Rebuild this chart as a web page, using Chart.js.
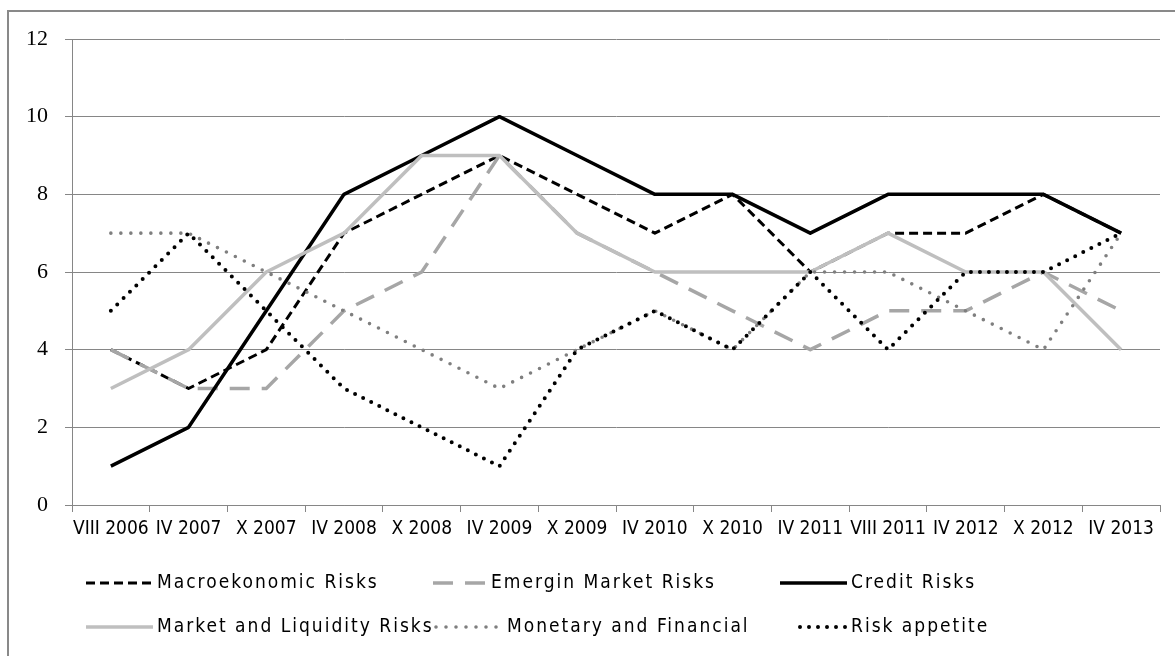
<!DOCTYPE html>
<html lang="en">
<head>
<meta charset="UTF-8">
<title>Risks 2006-2013</title>
<style>
  body { margin: 0; background: #fff; overflow: hidden; }
  #frame { position: absolute; left: 7px; top: 10px; width: 1200px; height: 700px; border: 2px solid #898989; }
  #wrap { position: absolute; left: 0; top: 0; width: 1175px; height: 656px; }
</style>
</head>
<body>
<div id="frame"></div>
<div id="wrap"><canvas id="riskChart" width="1175" height="656"></canvas></div>

<script src="https://cdn.jsdelivr.net/npm/chart.js"></script>
<script>
// categories (x axis)
const periods = ['VIII 2006', 'IV 2007', 'X 2007', 'IV 2008', 'X 2008', 'IV 2009', 'X 2009',
                 'IV 2010', 'X 2010', 'IV 2011', 'VIII 2011', 'IV 2012', 'X 2012', 'IV 2013'];

// series values
const macroRisks     = [4, 3, 4, 7, 8, 9, 8, 7, 8, 6, 7, 7, 8, 7];
const emerginRisks   = [4, 3, 3, 5, 6, 9, 7, 6, 5, 4, 5, 5, 6, 5];
const creditRisks    = [1, 2, 5, 8, 9, 10, 9, 8, 8, 7, 8, 8, 8, 7];
const liquidityRisks = [3, 4, 6, 7, 9, 9, 7, 6, 6, 6, 7, 6, 6, 4];
const monetaryRisks  = [7, 7, 6, 5, 4, 3, 4, 5, 4, 6, 6, 5, 4, 7];
const riskAppetite   = [5, 7, 5, 3, 2, 1, 4, 5, 4, 6, 4, 6, 6, 7];

// y axis ticks
const yTicks = [0, 2, 4, 6, 8, 10, 12];

const axisGray = '#868686';

// legend entries: line start, text start, row y
const legendSpots = [
    [86, 157, 583], [433, 491, 583], [780, 851, 583],
    [86, 157, 627], [436, 507, 627], [800, 851, 627]
];

const bottomLegend = {
    id: 'bottomLegend',
    afterDraw(chart) {
        const ctx = chart.ctx;
        chart.data.datasets.forEach((ds, i) => {
            const [x0, tx, y] = legendSpots[i];
            ctx.save();
            ctx.strokeStyle = ds.borderColor;
            ctx.lineWidth = ds.borderWidth;
            ctx.lineCap = ds.borderCapStyle || 'butt';
            ctx.setLineDash(ds.borderDash || []);
            ctx.beginPath();
            ctx.moveTo(x0, y);
            ctx.lineTo(tx - 4, y);
            ctx.stroke();
            ctx.setLineDash([]);
            ctx.fillStyle = '#000';
            ctx.font = '19px "Liberation Sans Narrow", "DejaVu Sans Condensed", sans-serif';
            ctx.letterSpacing = '2px';
            ctx.textBaseline = 'middle';
            ctx.textAlign = 'left';
            ctx.fillText(ds.label, tx, y);
            ctx.restore();
        });
    }
};

function line(label, data, color, width, dash, cap, idx) {
    return {
        label: label,
        data: data,
        borderColor: color,
        backgroundColor: color,
        borderWidth: width,
        borderDash: dash,
        borderCapStyle: cap,
        borderJoinStyle: 'round',
        pointRadius: 0,
        tension: 0,
        fill: false,
        order: -idx   // later series on top, like the original
    };
}

const ctx = document.querySelector('#riskChart');
new Chart(ctx, {
    type: 'line',
    data: {
        labels: periods,
        datasets: [
            line('Macroekonomic Risks', macroRisks, '#000000', 3, [9, 5], 'butt', 0),
            line('Emergin Market Risks', emerginRisks, '#a6a6a6', 3.5, [20, 12], 'butt', 1),
            line('Credit Risks', creditRisks, '#000000', 3.5, [], 'butt', 2),
            line('Market and Liquidity Risks', liquidityRisks, '#bfbfbf', 3.5, [], 'butt', 3),
            line('Monetary and Financial', monetaryRisks, '#7f7f7f', 3.6, [0, 10], 'round', 4),
            line('Risk appetite', riskAppetite, '#000000', 4, [0, 9], 'round', 5)
        ]
    },
    options: {
        responsive: false,
        animation: false,
        layout: { padding: { left: 0, top: 39, right: 15, bottom: 111 } },
        plugins: {
            legend: { display: false },
            tooltip: { enabled: false }
        },
        scales: {
            x: {
                offset: true,
                grid: { offset: true, drawOnChartArea: false, drawTicks: true, tickLength: 7, color: axisGray },
                border: { color: axisGray, width: 1 },
                ticks: {
                    color: '#000',
                    font: { family: '"Liberation Sans Narrow", "DejaVu Sans Condensed", sans-serif', size: 19 },
                    maxRotation: 0, minRotation: 0, autoSkip: false, padding: 6
                },
                afterFit(scale) { scale.height = 40; }
            },
            y: {
                min: 0,
                max: 12,
                afterBuildTicks(scale) { scale.ticks = yTicks.map(v => ({ value: v })); },
                grid: { color: axisGray, tickLength: 7 },
                border: { color: axisGray, width: 1 },
                ticks: {
                    color: '#000',
                    font: { family: '"Liberation Serif", serif', size: 22 },
                    padding: 17
                },
                afterFit(scale) { scale.width = 72; }
            }
        }
    },
    plugins: [bottomLegend]
});
</script>
</body>
</html>
